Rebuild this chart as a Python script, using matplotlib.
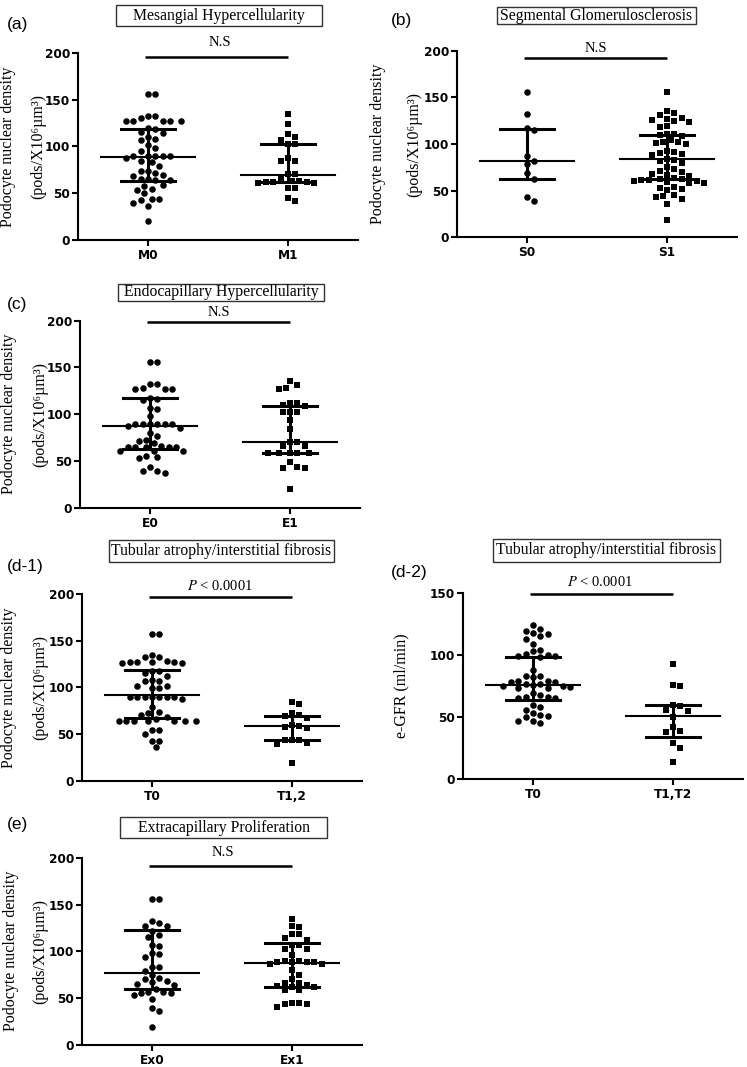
import numpy as np
import matplotlib
matplotlib.use("Agg")
import matplotlib.pyplot as plt
from matplotlib.patches import Rectangle

plt.rcParams.update({
    'font.family': ['Liberation Serif', 'DejaVu Serif'],
    'mathtext.fontset': 'stix',
})

# ----------------------------
# Data
# ----------------------------
# (a) Mesangial hypercellularity, podocyte nuclear density
m0 = [156, 156, 132, 132, 130, 127, 127, 127, 127, 127, 120, 118, 115, 114, 110, 108, 107,
      101, 98, 95, 90, 90, 90, 90, 90, 88, 84, 83, 79, 74, 74, 72, 69, 68, 65, 64, 64, 65,
      59, 58, 54, 53, 50, 44, 44, 43, 39, 36, 20]
m1 = [135, 124, 113, 110, 107, 102, 102, 88, 84, 84, 70, 70, 66, 63, 62, 61, 62, 63, 61, 62,
      56, 55, 45, 42]
m_med, m_q1, m_q3 = [88.5, 69.5], [63.5, 62], [119, 102.5]

# (b) Segmental glomerulosclerosis
s0 = [156, 132, 117, 115, 87, 82, 79, 69, 63, 43, 39]
s1 = [156, 135, 133, 131, 128, 127, 126, 125, 124, 119, 118, 111, 111, 110, 109, 104, 102,
      102, 101, 100, 93, 91, 90, 89, 88, 84, 83, 82, 80, 75, 73, 71, 70, 68, 67, 66, 64, 63,
      62, 61, 61, 60, 60, 59, 58, 58, 54, 53, 52, 51, 45, 44, 43, 41, 36, 19]
s_med, s_q1, s_q3 = [82, 83.5], [63, 62], [116, 110]

# (c) Endocapillary hypercellularity
e0 = [156, 156, 132, 132, 128, 127, 127, 127, 117, 116, 115, 107, 106, 98, 90, 90, 90, 90,
      90, 90, 87, 85, 80, 77, 73, 72, 69, 66, 65, 65, 65, 65, 65, 61, 61, 61, 55, 54, 53,
      44, 40, 39, 37]
e1 = [135, 131, 128, 127, 112, 110, 112, 109, 102, 102, 102, 94, 84, 70, 70, 66, 66, 59,
      59, 59, 59, 59, 49, 43, 43, 44, 20]
e_med, e_q1, e_q3 = [87, 70], [63, 59], [117, 109]

# (d-1) Tubular atrophy / interstitial fibrosis, podocyte nuclear density
t0_pnd = [157, 157, 135, 132, 132, 128, 127, 127, 127, 127, 126, 126, 118, 118, 115, 112,
          108, 107, 107, 101, 101, 99, 99, 90, 90, 90, 90, 90, 90, 90, 87, 79, 74, 72, 70,
          68, 66, 64, 64, 64, 64, 64, 64, 64, 54, 54, 50, 43, 43, 36]
t12_pnd = [84, 82, 73, 70, 69, 67, 60, 59, 58, 56, 44, 44, 44, 40, 39, 19]
t_med, t_q1, t_q3 = [92, 58.5], [67.5, 44], [118.5, 69.5]

# (d-2) Tubular atrophy / interstitial fibrosis, eGFR
t0_egfr = [124, 121, 119, 118, 115, 113, 117, 109, 103, 101, 104, 99, 99, 98, 100, 88, 83,
           82, 83, 79, 78, 77, 78, 79, 75, 75, 73, 74, 76, 73, 77, 68, 69, 66, 65, 65, 66,
           56, 60, 58, 53, 52, 51, 50, 47, 45, 47]
t12_egfr = [93, 76, 75, 60, 59, 56, 55, 50, 42, 39, 38, 29, 25, 14]
g_med, g_q1, g_q3 = [76, 51], [63.5, 34], [98, 60]

# (e) Extracapillary proliferation
ex0 = [156, 156, 132, 130, 127, 127, 122, 117, 115, 107, 106, 98, 97, 94, 83, 83, 79, 75,
       71, 70, 68, 67, 65, 64, 60, 56, 55, 56, 55, 53, 49, 39, 36, 19]
ex1 = [135, 127, 126, 119, 118, 114, 112, 107, 107, 102, 102, 96, 90, 89, 88, 88, 89, 90,
       86, 86, 80, 75, 70, 66, 64, 62, 58, 58, 62, 63, 66, 45, 43, 40, 43, 45]
ex_med, ex_q1, ex_q3 = [76.5, 87], [59.5, 62], [122.5, 108.5]

PND_LABEL = ["Podocyte nuclear density", "(pods/X10\u2076\u00b5m\u00b3)"]

# ----------------------------
# Layout (pixels in a 747x1067 canvas)
# ----------------------------
W, H = 747, 1067

panels = [
    dict(tag="(a)", title="Mesangial Hypercellularity", groups=[m0, m1], cats=["M0", "M1"],
         med=m_med, q1=m_q1, q3=m_q3, sig="N.S", ymax=200, ylabel=PND_LABEL,
         ax=(78, 52.7, 358, 240), tagpos=(7, 25), box=(116, 5, 322, 26),
         sigpos=(220, 43), bary=0.979, ylab_x=(8, 38)),
    dict(tag="(b)", title="Segmental Glomerulosclerosis", groups=[s0, s1], cats=["S0", "S1"],
         med=s_med, q1=s_q1, q3=s_q3, sig="N.S", ymax=200, ylabel=PND_LABEL,
         ax=(457, 50.7, 737, 237.3), tagpos=(391, 21), box=(497, 6.7, 696, 24.3),
         sigpos=(596, 48), bary=0.959, ylab_x=(378, 414)),
    dict(tag="(c)", title="Endocapillary Hypercellularity", groups=[e0, e1], cats=["E0", "E1"],
         med=e_med, q1=e_q1, q3=e_q3, sig="N.S", ymax=200, ylabel=PND_LABEL,
         ax=(80, 320.5, 360, 508), tagpos=(7, 305), box=(118, 284, 324, 301),
         sigpos=(219, 313), bary=0.99, ylab_x=(9, 40)),
    dict(tag="(d-1)", title="Tubular atrophy/interstitial fibrosis", groups=[t0_pnd, t12_pnd],
         cats=["T0", "T1,2"], med=t_med, q1=t_q1, q3=t_q3, sig="$P$ < 0.0001", ymax=200,
         ylabel=PND_LABEL, ax=(82, 594, 362, 780.7), tagpos=(7, 567),
         box=(109, 540, 334, 562), sigpos=(220, 586), bary=0.986, ylab_x=(9, 40)),
    dict(tag="(d-2)", title="Tubular atrophy/interstitial fibrosis", groups=[t0_egfr, t12_egfr],
         cats=["T0", "T1,T2"], med=g_med, q1=g_q1, q3=g_q3, sig="$P$ < 0.0001", ymax=150,
         ylabel=["e-GFR (ml/min)"], ax=(463, 592.7, 743, 779.3), tagpos=(391, 573),
         box=(493, 539, 720, 562), sigpos=(600, 582), bary=0.993, ylab_x=(401,)),
    dict(tag="(e)", title="Extracapillary Proliferation", groups=[ex0, ex1], cats=["Ex0", "Ex1"],
         med=ex_med, q1=ex_q1, q3=ex_q3, sig="N.S", ymax=200, ylabel=PND_LABEL,
         ax=(82, 858, 362, 1044.5), tagpos=(7, 825), box=(120, 817, 327, 838),
         sigpos=(223, 853), bary=0.956, ylab_x=(11, 40)),
]


def fx(x):
    return x / W


def fy(y):
    return 1 - y / H


def swarm(vals, ppu_y, ppu_x, d=7.4):
    """Simple beeswarm: x offsets (data units) so markers don't overlap."""
    vals = np.asarray(vals, float)
    placed = []
    xs = np.zeros(len(vals))
    for i in np.argsort(-vals, kind="stable"):
        y = vals[i] * ppu_y
        k = 0
        while True:
            cands = [0.0] if k == 0 else [k * d / 2, -k * d / 2]
            hit = None
            for c in cands:
                if all((c - px) ** 2 + (y - py) ** 2 >= d * d for px, py in placed):
                    hit = c
                    break
            if hit is not None:
                break
            k += 1
        placed.append((hit, y))
        xs[i] = hit / ppu_x
    return xs


fig = plt.figure(figsize=(W / 100, H / 100), dpi=100)

for p in panels:
    l, t, r, b = p["ax"]
    ax = fig.add_axes([fx(l), fy(b), (r - l) / W, (b - t) / H])
    ax.set_xlim(-0.5, 1.5)
    ax.set_ylim(0, p["ymax"])
    ppu_y = (b - t) / p["ymax"]
    ppu_x = (r - l) / 2.0

    for gi, vals in enumerate(p["groups"]):
        xo = swarm(vals, ppu_y, ppu_x)
        if gi == 0:
            ax.plot(gi + xo, vals, 'o', color='black', ms=4.7, mew=0, zorder=2, clip_on=False)
        else:
            ax.plot(gi + xo, vals, 's', color='black', ms=4.3, mew=0, zorder=2, clip_on=False)
        # median with interquartile range
        ax.plot([gi - 0.335, gi + 0.335], [p["med"][gi]] * 2, color='black', lw=1.5, zorder=3)
        ax.plot([gi - 0.19, gi + 0.19], [p["q1"][gi]] * 2, color='black', lw=2.2, zorder=3)
        ax.plot([gi - 0.19, gi + 0.19], [p["q3"][gi]] * 2, color='black', lw=2.2, zorder=3)
        ax.plot([gi, gi], [p["q1"][gi], p["q3"][gi]], color='black', lw=2.2, zorder=3)

    # significance bar
    ax.plot([0.24, 0.75], [p["bary"], p["bary"]], transform=ax.transAxes, color='black',
            lw=1.8, clip_on=False, solid_capstyle='butt')

    for s in ["top", "right"]:
        ax.spines[s].set_visible(False)
    for s in ["left", "bottom"]:
        ax.spines[s].set_linewidth(1.5)
    ax.set_yticks(np.arange(0, p["ymax"] + 1, 50))
    ax.set_xticks([0, 1])
    ax.set_xticklabels(p["cats"])
    ax.tick_params(axis='both', direction='out', length=4.5, width=1.5, color='black')
    ax.tick_params(axis='y', pad=1.0)
    ax.tick_params(axis='x', pad=2.0)
    for lab in ax.get_xticklabels() + ax.get_yticklabels():
        lab.set_fontfamily('DejaVu Sans')
        lab.set_fontweight('bold')
        lab.set_fontsize(8.7)

    # y label lines
    yc = (t + b) / 2
    for txt, xpx in zip(p["ylabel"], p["ylab_x"]):
        fig.text(fx(xpx), fy(yc), txt, rotation=90, ha='center', va='center', fontsize=11.5)

    # panel tag
    fig.text(fx(p["tagpos"][0]), fy(p["tagpos"][1]), p["tag"], ha='left', va='center',
             fontsize=12.5, family='Liberation Sans')

    # boxed title
    x0, y0, x1, y1 = p["box"]
    fig.patches.append(Rectangle((fx(x0), fy(y1)), (x1 - x0) / W, (y1 - y0) / H,
                                 transform=fig.transFigure, fill=False, ec='#333333', lw=1.0))
    fig.text(fx((x0 + x1) / 2), fy((y0 + y1) / 2), p["title"], ha='center', va='center',
             fontsize=11.3)

    # significance text
    fig.text(fx(p["sigpos"][0]), fy(p["sigpos"][1]), p["sig"], ha='center', va='center',
             fontsize=10.5)

fig.savefig("out.png", dpi=100)
